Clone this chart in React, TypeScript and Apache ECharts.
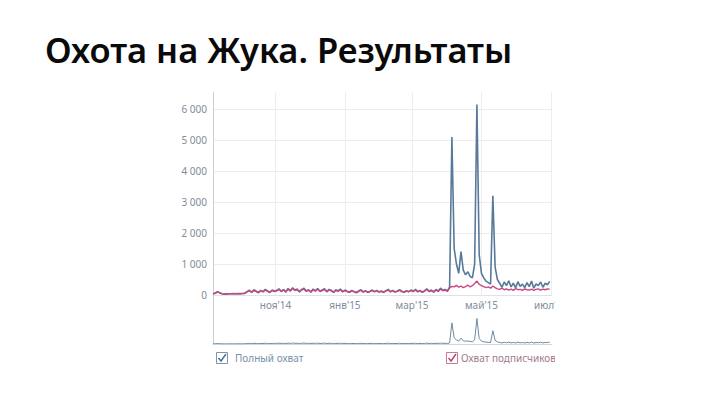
import React, { useEffect, useRef } from 'react';
import * as echarts from 'echarts';

// Daily-ish data: one value every 2 days, from 2014-09-07
const START_DATE = Date.UTC(2014, 8, 7);
const STEP_DAYS = 2;

// "Полный охват" (full reach)
const fullReach = [
  // Sep 7 – Oct 4
  40, 60, 110, 70, 40, 30, 35, 40, 40, 45, 40, 50, 45, 50, 60,
  // Oct 5 – Oct 31
  110, 160, 90, 170, 120, 80, 150, 110, 180, 130, 90, 160, 120,
  // Nov – Dec
  150, 200, 120, 180, 100, 210, 140, 230, 160, 190, 110, 180, 220, 130, 170, 100,
  190, 140, 210, 120, 160, 200, 110, 180, 150, 90, 170, 130, 190, 110, 160,
  // Jan – Feb
  120, 90, 150, 110, 80, 130, 170, 100, 140, 90, 120, 160, 110, 150, 100,
  130, 90, 140, 180, 110, 150, 100, 130, 170, 120, 90, 140, 110, 160,
  // Mar 1 – Apr 1
  120, 180, 110, 150, 90, 140, 200, 120, 160, 100, 180, 130, 220, 150, 180, 130,
  // Apr 3 – May 17
  250, 5100, 1500, 1000, 700, 1400, 800, 650, 750, 600, 550, 1000, 6150, 1300,
  700, 550, 450, 400, 350, 3200, 900, 500,
  // May 19 – Jun 30
  380, 250, 420, 300, 460, 260, 380, 230, 430, 280, 350, 240, 400, 270, 450,
  220, 360, 300, 420, 250, 380, 330, 440,
];

// "Охват подписчиков" (subscriber reach)
const subscriberReach = [
  35, 55, 100, 60, 35, 25, 30, 35, 35, 40, 35, 45, 40, 45, 50,
  100, 140, 85, 150, 110, 70, 135, 100, 160, 115, 80, 145, 110,
  135, 180, 110, 160, 90, 190, 125, 205, 145, 170, 100, 160, 195, 115, 155, 90,
  170, 125, 190, 110, 145, 180, 100, 160, 135, 80, 150, 115, 170, 100, 145,
  110, 80, 135, 100, 70, 115, 150, 90, 125, 80, 110, 145, 100, 135, 90,
  115, 80, 125, 160, 100, 135, 90, 115, 150, 110, 80, 125, 100, 145,
  110, 160, 100, 135, 80, 125, 180, 110, 145, 90, 160, 115, 195, 135, 160, 120,
  230, 280, 260, 310, 250, 290, 240, 270, 320, 260, 300, 370, 450, 340,
  300, 270, 240, 260, 220, 290, 240, 200,
  180, 220, 170, 200, 160, 190, 150, 210, 170, 180, 150, 200, 170, 160, 190,
  150, 180, 200, 160, 190, 170, 200, 180,
];

const monthTickDates = ['2014-11-01', '2015-01-01', '2015-03-01', '2015-05-01', '2015-07-01'];
const monthNames = ['янв', 'фев', 'мар', 'апр', 'май', 'июн', 'июл', 'авг', 'сен', 'окт', 'ноя', 'дек'];
const yTicks = [0, 1000, 2000, 3000, 4000, 5000, 6000];

const seriesNames = ['Полный охват', 'Охват подписчиков'];
const titleText = 'Охота на Жука. Результаты';

const BLUE = '#587a9a';
const PINK = '#c7487f';
const LABEL = '#7f8c9a';
const FONT = 'Noto Sans';

function toTs(s: string) {
  const [y, m, d] = s.split('-').map(Number);
  return Date.UTC(y, m - 1, d);
}

export default function App() {
  const ref = useRef<HTMLDivElement>(null);
  useEffect(() => {
    if (!ref.current) return;
    const chart = echarts.init(ref.current, undefined, { renderer: 'svg' });
    const dates = fullReach.map((_, i) => START_DATE + i * STEP_DAYS * 86400000);
    const bluePairs = fullReach.map((v, i) => [dates[i], v]);
    const pinkPairs = subscriberReach.map((v, i) => [dates[i], v]);
    const tickTs = monthTickDates.map(toTs);
    const xMin = START_DATE;
    const xMax = toTs('2015-07-02');

    const fmtX = (v: number) => {
      const d = new Date(v);
      return monthNames[d.getUTCMonth()] + "'" + String(d.getUTCFullYear()).slice(2);
    };
    const fmtY = (v: number) => (v === 0 ? '0' : v % 1000 === 0 ? v / 1000 + ' 000' : '');

    chart.setOption({
      animation: false,
      backgroundColor: '#ffffff',
      title: {
        text: titleText,
        left: 40,
        top: 27,
        textStyle: { fontSize: 34.5, fontWeight: 600, color: '#0a0a0a', fontFamily: FONT },
      },
      grid: [
        { left: 213, right: 168, top: 92, height: 203 },
        { left: 213, right: 168, top: 315, height: 29 },
      ],
      xAxis: [
        {
          type: 'value',
          gridIndex: 0,
          min: xMin,
          max: xMax,
          axisLine: { show: true, lineStyle: { color: '#dfe3e8', width: 1 } },
          axisTick: { show: false, customValues: tickTs },
          axisLabel: {
            customValues: tickTs,
            formatter: fmtX,
            color: LABEL,
            fontSize: 10,
            fontFamily: FONT,
            margin: 5,
            hideOverlap: false,
          },
          splitLine: { show: true, lineStyle: { color: '#ededed', width: 1 } },
        },
        {
          type: 'value',
          gridIndex: 1,
          min: xMin,
          max: xMax,
          position: 'top',
          axisLine: { show: true, lineStyle: { color: '#d3d8de', width: 1 } },
          axisTick: { show: false },
          axisLabel: { show: false },
          splitLine: { show: false },
        },
      ],
      yAxis: [
        {
          type: 'value',
          gridIndex: 0,
          min: 0,
          max: 6550,
          interval: 1000,
          axisLine: { show: true, lineStyle: { color: '#c9ced4', width: 1 } },
          axisTick: { show: false, customValues: yTicks },
          axisLabel: {
            customValues: yTicks,
            formatter: fmtY,
            color: LABEL,
            fontSize: 10,
            fontFamily: FONT,
            margin: 6,
          },
          splitLine: { show: true, lineStyle: { color: '#ededed', width: 1 } },
        },
        {
          type: 'value',
          gridIndex: 1,
          min: 0,
          max: 7000,
          axisLine: { show: true, lineStyle: { color: '#c9ced4', width: 1 } },
          axisTick: { show: false },
          axisLabel: { show: false },
          splitLine: { show: false },
        },
      ],
      series: [
        {
          name: seriesNames[0],
          type: 'line',
          xAxisIndex: 0,
          yAxisIndex: 0,
          data: bluePairs,
          showSymbol: false,
          lineStyle: { color: BLUE, width: 1.6 },
          z: 2,
        },
        {
          name: seriesNames[1],
          type: 'line',
          xAxisIndex: 0,
          yAxisIndex: 0,
          data: pinkPairs,
          showSymbol: false,
          lineStyle: { color: PINK, width: 1.4 },
          z: 3,
        },
        {
          name: seriesNames[0] + ' (навигатор)',
          type: 'line',
          xAxisIndex: 1,
          yAxisIndex: 1,
          data: bluePairs,
          showSymbol: false,
          lineStyle: { color: '#6d88a4', width: 1 },
        },
      ],
      graphic: [
        { type: 'line', shape: { x1: 213.5, y1: 295, x2: 213.5, y2: 315 }, style: { stroke: '#c9ced4', lineWidth: 1 }, z: 1 },
        { type: 'rect', shape: { x: 555, y: 85, width: 165, height: 290 }, style: { fill: '#ffffff' }, z: 100 },
        { type: 'rect', shape: { x: 216.5, y: 352.5, width: 11, height: 11 }, style: { fill: '#fff', stroke: '#7d95ae', lineWidth: 1 }, z: 10 },
        { type: 'polyline', shape: { points: [[218.5, 358], [221, 361], [226, 354]] }, style: { stroke: '#4e6c8c', lineWidth: 1.4, fill: 'none' }, z: 11 },
        { type: 'text', style: { text: seriesNames[0], x: 235, y: 358, verticalAlign: 'middle', fill: '#7890a8', fontSize: 10, fontFamily: FONT }, z: 10 },
        { type: 'rect', shape: { x: 446.5, y: 352.5, width: 11, height: 11 }, style: { fill: '#fff', stroke: '#c77a9a', lineWidth: 1 }, z: 10 },
        { type: 'polyline', shape: { points: [[448.5, 358], [451, 361], [456, 354]] }, style: { stroke: '#b8406f', lineWidth: 1.4, fill: 'none' }, z: 11 },
        { type: 'text', style: { text: seriesNames[1], x: 461, y: 358, verticalAlign: 'middle', fill: '#a27a8e', fontSize: 10, fontFamily: FONT }, z: 10 },
      ],
    });
    return () => chart.dispose();
  }, []);
  return <div ref={ref} style={{ position: 'fixed', left: 0, top: 0, width: 720, height: 405 }} />;
}
